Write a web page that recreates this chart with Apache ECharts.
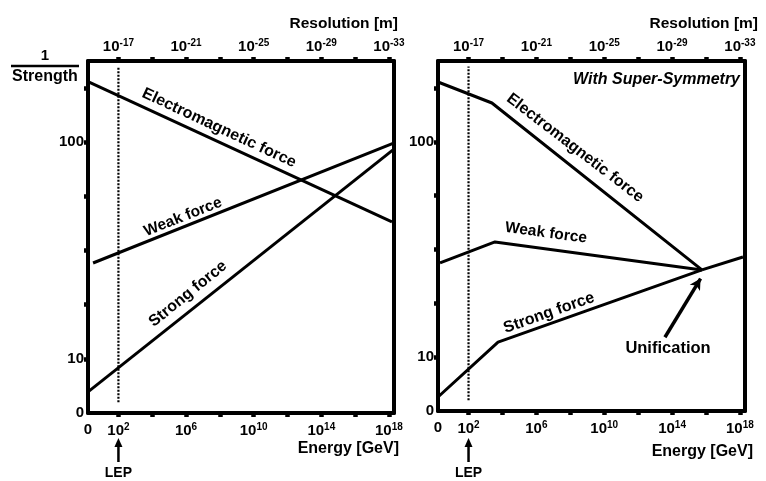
<!DOCTYPE html>
<html><head><meta charset="utf-8">
<script src="https://cdn.jsdelivr.net/npm/echarts@6/dist/echarts.min.js"></script>
<style>html,body{margin:0;padding:0;background:#fff}#c{width:766px;height:481px}</style>
</head><body><div id="c"></div>
<script>
// ---- axis ticks / labels ----
const energyTickPos = [1, 2, 3, 4, 5, 6, 7, 8, 9];
const energyLabelPos = [0.1, 1, 3, 5, 7, 9];
const energyLabels = ['0', '10^2', '10^6', '10^10', '10^14', '10^18'];
const resolutionLabelPos = [1, 3, 5, 7, 9];
const resolutionLabels = ['10^-17', '10^-21', '10^-25', '10^-29', '10^-33'];
const strengthTickPos = [10, 20, 30, 40, 50, 60];
const strengthLabelPos = [0, 10, 50];
const strengthLabels = ['0', '10', '100'];
const lepPos = 1;

// ---- Standard model (left panel) ----
const smEM = [[0.1, 61.2], [9.09, 35.3]];
const smWeak = [[0.25, 27.7], [9.12, 49.8]];
const smStrong = [[0.1, 3.9], [9.12, 48.6]];

// ---- With super-symmetry (right panel) ----
const susyEM = [[0.1, 61.1], [1.69, 57.2], [7.88, 26.2]];
const susyWeak = [[0.16, 27.5], [1.78, 31.4], [7.88, 26.2]];
const susyStrong = [[0.1, 2.6], [1.87, 12.8], [7.88, 26.2]];
const susyUnified = [[7.88, 26.2], [9.09, 28.6]];
const unificationArrow = [[6.79, 13.7], [7.84, 24.6]];
const lepLine = [[lepPos, 2], [lepPos, 64]];

const FONT = '"Liberation Sans", Arial, sans-serif';
const richText = {
  b: { fontSize: 15, fontWeight: 'bold', fontFamily: FONT, color: '#000' },
  s: { fontSize: 10, fontWeight: 'bold', fontFamily: FONT, color: '#000', verticalAlign: 'top', padding: [0, 0, 7, 0] }
};
function supText(t) {
  const p = t.split('^');
  return p.length > 1 ? '{b|' + p[0] + '}{s|' + p[1] + '}' : '{b|' + p[0] + '}';
}
function lookup(pos, labels, v) {
  for (let i = 0; i < pos.length; i++) if (Math.abs(pos[i] - v) < 1e-6) return labels[i];
  return '';
}

const XMIN = 0.1, XMAX = 9.15, YMIN = 0, YMAX = 65;
const axisLineStyle = { color: '#000', width: 4 };

function bottomX(g) {
  return {
    type: 'value', gridIndex: g, position: 'bottom', min: XMIN, max: XMAX,
    axisLine: { show: true, onZero: false, lineStyle: axisLineStyle },
    axisTick: { show: true, length: 4, customValues: energyTickPos, lineStyle: { color: '#000', width: 4.5 } },
    axisLabel: { show: true, margin: 9, customValues: energyLabelPos, rich: richText,
      formatter: v => supText(lookup(energyLabelPos, energyLabels, v)) },
    splitLine: { show: false }
  };
}
function topX(g) {
  return {
    type: 'value', gridIndex: g, position: 'top', min: XMIN, max: XMAX,
    axisLine: { show: true, onZero: false, lineStyle: axisLineStyle },
    axisTick: { show: true, length: 4, customValues: energyTickPos, lineStyle: { color: '#000', width: 4.5 } },
    axisLabel: { show: true, margin: 6, customValues: resolutionLabelPos, rich: richText,
      formatter: v => supText(lookup(resolutionLabelPos, resolutionLabels, v)) },
    splitLine: { show: false }
  };
}
function leftY(g) {
  return {
    type: 'value', gridIndex: g, position: 'left', min: YMIN, max: YMAX,
    axisLine: { show: true, onZero: false, lineStyle: axisLineStyle },
    axisTick: { show: true, length: 4, customValues: strengthTickPos, lineStyle: { color: '#000', width: 4.5 } },
    axisLabel: { show: true, margin: 4, customValues: strengthLabelPos, rich: richText,
      formatter: v => supText(lookup(strengthLabelPos, strengthLabels, v)) },
    splitLine: { show: false }
  };
}
function rightY(g) {
  return {
    type: 'value', gridIndex: g, position: 'right', min: YMIN, max: YMAX,
    axisLine: { show: true, onZero: false, lineStyle: axisLineStyle },
    axisTick: { show: false }, axisLabel: { show: false }, splitLine: { show: false }
  };
}
function force(data, xi, yi) {
  return { type: 'line', xAxisIndex: xi, yAxisIndex: yi, data: data, symbol: 'none',
    lineStyle: { color: '#000', width: 3 }, silent: true, animation: false, z: 3 };
}
function lep(xi, yi) {
  return { type: 'line', xAxisIndex: xi, yAxisIndex: yi, data: lepLine, symbol: 'none',
    lineStyle: { color: '#000', width: 2.2, type: [2, 1.5] }, silent: true, animation: false, z: 2 };
}

const chart = echarts.init(document.getElementById('c'), null, { renderer: 'canvas' });
chart.setOption({
  animation: false,
  backgroundColor: '#fff',
  grid: [
    { left: 88, top: 61, width: 306, height: 352 },
    { left: 438, top: 61, width: 307, height: 350 }
  ],
  xAxis: [bottomX(0), topX(0), bottomX(1), topX(1)],
  yAxis: [leftY(0), rightY(0), leftY(1), rightY(1)],
  series: [
    force(smEM, 0, 0), force(smWeak, 0, 0), force(smStrong, 0, 0), lep(0, 0),
    force(susyEM, 2, 2), force(susyWeak, 2, 2), force(susyStrong, 2, 2), force(susyUnified, 2, 2), lep(2, 2),
    { type: 'line', xAxisIndex: 2, yAxisIndex: 2, data: [], symbol: 'none', silent: true,
      markLine: { silent: true, symbol: ['none', 'arrow'], symbolSize: [9, 11], label: { show: false },
        lineStyle: { color: '#000', width: 3.5, type: 'solid' },
        data: [[{ coord: unificationArrow[0] }, { coord: unificationArrow[1] }]] } }
  ]
});

const d = Math.PI / 180;
function txt(x, y, text, size, rot, extra) {
  return Object.assign({ type: 'text', x: x, y: y, rotation: (rot || 0) * d, silent: true,
    style: Object.assign({ text: text, fill: '#000', font: 'bold ' + size + 'px ' + FONT,
      align: 'center', verticalAlign: 'middle' }, extra || {}) });
}
const lx0 = chart.convertToPixel({ xAxisIndex: 0 }, lepPos);
const lx1 = chart.convertToPixel({ xAxisIndex: 2 }, lepPos);
function lepArrow(x) {
  return [
    { type: 'line', silent: true, shape: { x1: x, y1: 462, x2: x, y2: 446 }, style: { stroke: '#000', lineWidth: 2.5 } },
    { type: 'polygon', silent: true, shape: { points: [[x - 4, 447], [x + 4, 447], [x, 438]] }, style: { fill: '#000' } },
    txt(x, 473, 'LEP', 14, 0)
  ];
}
chart.setOption({
  graphic: [
    txt(45, 56, '1', 15, 0),
    { type: 'line', silent: true, shape: { x1: 11, y1: 66, x2: 79, y2: 66 }, style: { stroke: '#000', lineWidth: 2.5 } },
    txt(45, 77, 'Strength', 16, 0),
    txt(398, 24, 'Resolution [m]', 15.5, 0, { align: 'right' }),
    txt(758, 24, 'Resolution [m]', 15.5, 0, { align: 'right' }),
    txt(399, 449, 'Energy [GeV]', 16, 0, { align: 'right' }),
    txt(753, 452, 'Energy [GeV]', 16, 0, { align: 'right' }),
    txt(219, 128, 'Electromagnetic force', 16, -25),
    txt(183, 217, 'Weak force', 15.5, 21.6),
    txt(188, 294, 'Strong force', 16, 39),
    txt(740, 80, 'With Super-Symmetry', 16, 0, { align: 'right', font: 'italic bold 16px ' + FONT }),
    txt(575, 148, 'Electromagnetic force', 16, -37.5),
    txt(546, 233, 'Weak force', 15.5, -7.7),
    txt(549, 313, 'Strong force', 16, 19.4),
    txt(668, 348, 'Unification', 16.5, 0)
  ].concat(lepArrow(lx0), lepArrow(lx1))
});
</script></body></html>
